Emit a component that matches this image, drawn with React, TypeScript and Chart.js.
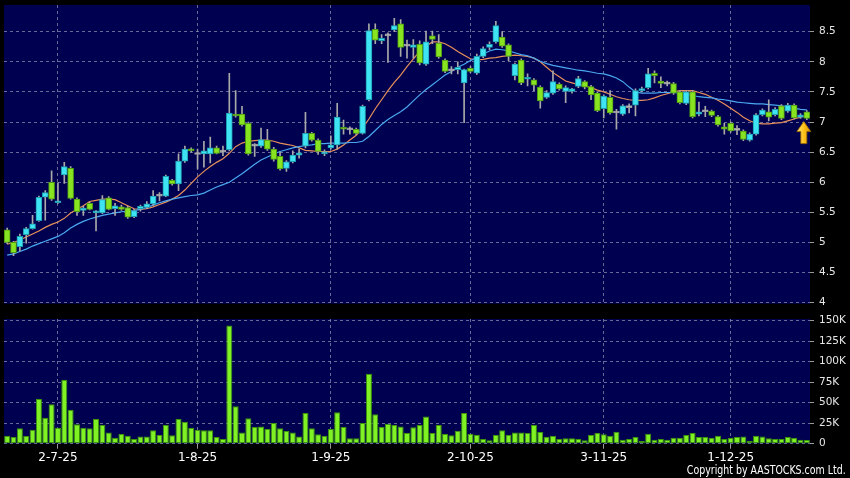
import React, { useEffect, useRef } from "react";
import { Chart, registerables } from "chart.js";

Chart.register(...registerables);

// ---- data ----
const xTickBars = [8, 30, 51, 73, 94, 114];
const xTickLabels = ["2-7-25", "1-8-25", "1-9-25", "2-10-25", "3-11-25", "1-12-25"];

const opens = [5.21,5.00,4.93,5.13,5.23,5.36,5.75,6.00,5.66,6.12, 6.23,5.72,5.53,5.65,5.49,5.49,5.74,5.56,5.59,5.58, 5.43,5.56,5.58,5.64,5.77,5.77,6.03,5.97,6.35,6.55, 6.46,6.47,6.47,6.57,6.50,6.54,7.13,7.13,6.98,6.60, 6.60,6.70,6.55,6.43,6.23,6.34,6.45,6.60,6.81,6.70, 6.47,6.57,6.62,6.91,6.87,6.88,6.81,7.37,8.54,8.35, 8.43,8.53,8.63,8.26,8.24,8.29,7.96,8.43,8.31,8.03, 7.85,7.87,7.65,7.89,7.81,8.09,8.24,8.33,8.41,8.28, 7.77,8.03,7.71,7.70,7.58,7.41,7.48,7.63,7.51,7.51, 7.59,7.67,7.59,7.48,7.22,7.41,7.15,7.13,7.24,7.28, 7.52,7.57,7.81,7.68,7.63,7.64,7.50,7.31,7.50,7.13, 7.17,7.18,7.09,6.92,6.98,6.86,6.85,6.70,6.80,7.12, 7.17,7.12,7.27,7.18,7.28,7.08,7.17];
const highs = [5.24,5.02,5.14,5.25,5.45,5.77,5.86,6.19,5.99,6.33, 6.26,5.74,5.60,5.67,5.53,5.78,5.76,5.65,5.62,5.60, 5.55,5.62,5.68,5.86,5.83,6.12,6.05,6.47,6.60,6.57, 6.55,6.68,6.75,6.60,6.60,7.81,7.52,7.26,7.00,6.64, 6.90,6.88,6.58,6.50,6.36,6.52,6.55,7.16,6.83,6.72, 6.54,6.77,7.31,7.03,6.92,6.90,7.28,8.63,8.63,8.45, 8.48,8.72,8.70,8.36,8.37,8.35,8.51,8.51,8.45,8.05, 7.92,8.00,7.88,7.92,8.13,8.25,8.33,8.67,8.50,8.30, 7.98,8.05,7.80,7.72,7.60,7.52,7.85,7.65,7.60,7.56, 7.76,7.69,7.61,7.50,7.45,7.52,7.21,7.29,7.30,7.55, 7.58,7.89,7.85,7.75,7.68,7.66,7.52,7.52,7.52,7.33, 7.26,7.20,7.11,6.98,7.00,6.94,6.87,6.82,7.14,7.22, 7.37,7.24,7.29,7.31,7.30,7.14,7.19];
const lows = [4.98,4.78,4.86,4.99,5.22,5.35,5.37,5.70,5.65,5.98, 5.72,5.45,5.45,5.54,5.19,5.48,5.54,5.45,5.53,5.40, 5.41,5.52,5.56,5.62,5.69,5.76,5.95,5.86,6.33,6.50, 6.22,6.25,6.32,6.47,6.44,6.52,7.08,6.93,6.45,6.43, 6.58,6.53,6.35,6.20,6.18,6.32,6.40,6.57,6.68,6.46, 6.44,6.55,6.55,6.80,6.80,6.79,6.80,7.35,8.30,8.30, 7.99,8.50,8.09,8.06,8.06,7.95,7.94,8.30,8.06,7.82, 7.80,7.80,6.99,7.82,7.79,8.07,8.20,8.31,8.24,8.02, 7.70,7.62,7.60,7.52,7.23,7.39,7.46,7.53,7.32,7.48, 7.57,7.55,7.37,7.17,7.07,7.13,6.88,7.11,7.15,7.10, 7.50,7.55,7.65,7.57,7.60,7.46,7.30,7.29,7.07,7.10, 7.09,7.09,6.93,6.80,6.83,6.79,6.69,6.68,6.78,7.10, 7.02,7.10,7.04,7.16,7.05,7.06,7.04];
const closes = [5.00,4.83,5.10,5.23,5.31,5.75,5.83,5.72,5.69,6.26, 5.73,5.51,5.57,5.55,5.52,5.71,5.55,5.61,5.55,5.42, 5.53,5.60,5.64,5.77,5.77,6.10,5.97,6.35,6.55,6.52, 6.46,6.52,6.57,6.48,6.50,7.15,7.10,6.95,6.47,6.60, 6.71,6.55,6.38,6.22,6.34,6.45,6.49,6.81,6.70,6.51, 6.50,6.62,7.08,6.88,6.87,6.81,7.26,8.52,8.36,8.39, 8.43,8.60,8.24,8.26,8.28,7.98,8.33,8.37,8.08,7.84, 7.85,7.91,7.87,7.84,8.09,8.22,8.29,8.60,8.26,8.09, 7.96,7.65,7.74,7.61,7.35,7.49,7.67,7.55,7.57,7.55, 7.72,7.58,7.45,7.19,7.43,7.15,7.15,7.27,7.24,7.52, 7.55,7.80,7.77,7.64,7.63,7.48,7.32,7.50,7.09,7.17, 7.17,7.11,6.95,6.88,6.85,6.86,6.71,6.80,7.12,7.20, 7.08,7.21,7.06,7.28,7.07,7.12,7.06];
const volumes = [9800,8100,18700,9300,17000,54500,31700,48000,19500,78000, 41500,23600,19500,18700,30000,22800,13800,7300,11800,9800, 5700,8900,8900,16300,10600,22800,10200,30000,26800,19500, 17000,16300,16300,8100,5700,144000,45500,13800,30900,20300, 21000,17900,25200,18700,15400,13800,8900,37400,18700,11400, 9800,17900,38200,20300,6500,6500,25200,85400,35800,20300, 24400,22800,21000,13000,19900,22800,33300,13000,22800,11800, 10200,15900,37400,12200,11000,5700,4100,10600,16300,11000, 13800,13800,13000,22800,14200,8500,9800,5700,6500,6500, 5700,4100,10600,13000,11400,9800,14600,4900,5700,8100, 3300,12200,4900,5700,4900,7300,7300,10600,13000,8100, 8100,7300,9800,5700,7300,8100,8900,3300,9800,8900, 6500,5700,5700,8100,7300,4900,4500];
const maShort = [4.97,5.00,5.04,5.09,5.14,5.19,5.25,5.30,5.34,5.40, 5.49,5.55,5.61,5.68,5.70,5.72,5.72,5.71,5.66,5.61, 5.56,5.55,5.56,5.59,5.63,5.67,5.72,5.78,5.87,5.98, 6.09,6.18,6.26,6.33,6.39,6.48,6.59,6.65,6.68,6.69, 6.70,6.70,6.68,6.65,6.63,6.61,6.57,6.53,6.52,6.51, 6.51,6.51,6.55,6.62,6.70,6.78,6.90,7.05,7.22,7.37, 7.52,7.66,7.78,7.92,8.05,8.17,8.26,8.33,8.33,8.30, 8.24,8.17,8.11,8.05,8.03,8.04,8.06,8.07,8.09,8.10, 8.11,8.10,8.09,8.06,8.00,7.91,7.82,7.75,7.68,7.65, 7.62,7.60,7.57,7.53,7.50,7.46,7.42,7.39,7.37,7.36, 7.36,7.37,7.40,7.44,7.47,7.50,7.52,7.52,7.52,7.49, 7.46,7.41,7.36,7.30,7.23,7.16,7.08,7.02,6.98,6.97, 6.97,6.98,6.99,7.02,7.05,7.08,7.10];
const maLong = [4.79,4.81,4.85,4.89,4.94,4.98,5.02,5.06,5.10,5.16, 5.24,5.30,5.35,5.39,5.42,5.45,5.47,5.49,5.51,5.52, 5.53,5.55,5.58,5.62,5.66,5.69,5.72,5.74,5.76,5.78, 5.79,5.82,5.87,5.92,5.96,6.00,6.07,6.14,6.22,6.30, 6.37,6.42,6.47,6.51,6.54,6.57,6.59,6.61,6.62,6.64, 6.64,6.65,6.65,6.65,6.66,6.66,6.68,6.76,6.86,6.96, 7.04,7.11,7.17,7.25,7.35,7.45,7.54,7.62,7.70,7.78, 7.84,7.91,7.96,8.02,8.07,8.13,8.18,8.21,8.20,8.18, 8.15,8.12,8.10,8.06,8.01,7.97,7.94,7.92,7.90,7.88, 7.86,7.85,7.83,7.81,7.80,7.77,7.73,7.67,7.58,7.50, 7.48,7.48,7.48,7.49,7.49,7.49,7.48,7.46,7.44,7.42, 7.41,7.40,7.38,7.37,7.35,7.33,7.32,7.31,7.30,7.30, 7.29,7.28,7.27,7.25,7.23,7.21,7.20];
const priceTicks = [4, 4.5, 5, 5.5, 6, 6.5, 7, 7.5, 8, 8.5];
const volumeTicks = [0, 25000, 50000, 75000, 100000, 125000, 150000];

// ---- styles ----
const UP = "#3fe4f4";
const UP_EDGE = "#1c9cae";
const DOWN = "#88e421";
const DOWN_EDGE = "#4c9a12";
const FLAT = "#c8c8c8";
const FLAT_EDGE = "#9a9a9a";
const WICK = "#a9a9a9";
const NAVY = "#000050";
const GRID = "rgba(140,140,175,0.75)";
const TICKC = "#9a9a9a";
const ORANGE = "#e8905a";
const BLUE = "#4aa8f0";
const FONT = "DejaVu Sans";

const labels = opens.map((_, i) => {
  const k = xTickBars.indexOf(i);
  return k >= 0 ? xTickLabels[k] : "";
});
const candleFill = opens.map((o, i) => (closes[i] > o ? UP : closes[i] < o ? DOWN : FLAT));
const candleEdge = opens.map((o, i) => (closes[i] > o ? UP_EDGE : closes[i] < o ? DOWN_EDGE : FLAT_EDGE));

const panelBg = {
  id: "panelBg",
  beforeDraw(chart: any) {
    const { ctx, chartArea: a } = chart;
    ctx.save();
    ctx.fillStyle = NAVY;
    ctx.fillRect(a.left, a.top, a.right - a.left, a.bottom - a.top);
    ctx.restore();
  },
};

const arrowPlugin = {
  id: "lastArrow",
  afterDatasetsDraw(chart: any) {
    const { ctx } = chart;
    const xs = chart.scales.x;
    const ys = chart.scales.y;
    const i = opens.length - 1;
    const cx = xs.getPixelForValue(i) - 3;
    const tip = ys.getPixelForValue(lows[i]) + 2;
    const g = ctx.createLinearGradient(cx - 7, 0, cx + 7, 0);
    g.addColorStop(0, "#ffe27a");
    g.addColorStop(0.5, "#ffc21a");
    g.addColorStop(1, "#d89200");
    ctx.save();
    ctx.beginPath();
    ctx.moveTo(cx, tip);
    ctx.lineTo(cx + 7, tip + 10);
    ctx.lineTo(cx + 3, tip + 10);
    ctx.lineTo(cx + 3, tip + 22);
    ctx.lineTo(cx - 3, tip + 22);
    ctx.lineTo(cx - 3, tip + 10);
    ctx.lineTo(cx - 7, tip + 10);
    ctx.closePath();
    ctx.fillStyle = g;
    ctx.fill();
    ctx.strokeStyle = "#9a6a00";
    ctx.lineWidth = 0.8;
    ctx.stroke();
    ctx.restore();
  },
};

export default function App() {
  const priceRef = useRef<HTMLCanvasElement>(null);
  const volRef = useRef<HTMLCanvasElement>(null);

  useEffect(() => {
    document.body.style.margin = "0";
    document.body.style.background = "#000";
    Chart.defaults.font.family = FONT;

    const price = new Chart(priceRef.current as HTMLCanvasElement, {
      type: "bar",
      data: {
        labels,
        datasets: [
          { type: "line", data: maShort, borderColor: ORANGE, borderWidth: 1.2, pointRadius: 0, order: 4 } as any,
          { type: "line", data: maLong, borderColor: BLUE, borderWidth: 1.2, pointRadius: 0, order: 3 } as any,
          {
            type: "bar",
            data: lows.map((l, i) => [l, highs[i]]),
            backgroundColor: WICK,
            barThickness: 1,
            grouped: false,
            order: 2,
          } as any,
          {
            type: "bar",
            data: opens.map((o, i) => [o, closes[i]]),
            backgroundColor: candleFill,
            borderColor: candleEdge,
            borderWidth: 1,
            borderSkipped: false,
            barThickness: 6,
            minBarLength: 2,
            grouped: false,
            order: 1,
          } as any,
        ],
      },
      options: {
        animation: false,
        responsive: false,
        maintainAspectRatio: false,
        events: [],
        layout: { padding: { left: 4, top: 5, right: 0, bottom: 6.3 } },
        plugins: { legend: { display: false }, tooltip: { enabled: false } },
        scales: {
          x: {
            offset: true,
            grid: { offset: false, color: GRID, lineWidth: 1, drawTicks: false },
            border: { display: false, dash: [3, 3] },
            ticks: { display: false },
            afterBuildTicks: (s: any) => {
              s.ticks = xTickBars.map((v) => ({ value: v }));
            },
            afterFit: (s: any) => {
              s.height = 0;
              s.paddingLeft = 0;
              s.paddingRight = 0;
            },
          },
          y: {
            position: "right",
            min: 3.983,
            max: 8.943,
            grid: { color: GRID, lineWidth: 1, tickLength: 4, tickColor: TICKC, tickBorderDash: [] },
            border: { display: false, dash: [3, 3] },
            ticks: { color: "#e6e6e6", font: { size: 10.5 }, padding: 5, callback: (v: any) => String(v) },
            afterBuildTicks: (s: any) => {
              s.ticks = priceTicks.map((v) => ({ value: v }));
            },
            afterFit: (s: any) => {
              s.width = 40;
              s.paddingTop = 0;
              s.paddingBottom = 0;
            },
          },
        },
      } as any,
      plugins: [panelBg, arrowPlugin],
    });

    const vol = new Chart(volRef.current as HTMLCanvasElement, {
      type: "bar",
      data: {
        labels,
        datasets: [
          {
            data: volumes,
            backgroundColor: "#80f224",
            borderColor: "#3a9608",
            borderWidth: 1,
            borderSkipped: false,
            barPercentage: 0.95,
            categoryPercentage: 1,
          } as any,
        ],
      },
      options: {
        animation: false,
        responsive: false,
        maintainAspectRatio: false,
        events: [],
        layout: { padding: { left: 4, top: 9, right: 0, bottom: 12.3 } },
        plugins: { legend: { display: false }, tooltip: { enabled: false } },
        scales: {
          x: {
            offset: true,
            grid: { offset: false, color: GRID, lineWidth: 1, drawTicks: true, tickLength: 5, tickColor: TICKC, tickBorderDash: [] },
            border: { display: false, dash: [3, 3] },
            ticks: {
              color: "#ffffff",
              font: { size: 12 },
              padding: 2,
              autoSkip: false,
              maxRotation: 0,
              callback: (v: any) => labels[v],
            },
            afterBuildTicks: (s: any) => {
              s.ticks = xTickBars.map((v) => ({ value: v }));
            },
            afterFit: (s: any) => {
              s.height = 22;
              s.paddingLeft = 0;
              s.paddingRight = 0;
            },
          },
          y: {
            position: "right",
            min: 0,
            max: 152000,
            grid: { color: GRID, lineWidth: 1, tickLength: 4, tickColor: TICKC, tickBorderDash: [] },
            border: { display: false, dash: [3, 3] },
            ticks: {
              color: "#e6e6e6",
              font: { size: 10.5 },
              padding: 5,
              callback: (v: any) => (v === 0 ? "0" : v / 1000 + "K"),
            },
            afterBuildTicks: (s: any) => {
              s.ticks = volumeTicks.map((v) => ({ value: v }));
            },
            afterFit: (s: any) => {
              s.width = 40;
              s.paddingTop = 0;
              s.paddingBottom = 0;
            },
          },
        },
      } as any,
      plugins: [panelBg],
    });

    return () => {
      price.destroy();
      vol.destroy();
    };
  }, []);

  return (
    <div style={{ position: "relative", width: 850, height: 478, background: "#000", overflow: "hidden" }}>
      <canvas ref={priceRef} width={850} height={310} style={{ position: "absolute", left: 0, top: 0 }} />
      <canvas ref={volRef} width={850} height={168} style={{ position: "absolute", left: 0, top: 310 }} />
      <div
        style={{
          position: "absolute",
          right: 4,
          top: 463,
          color: "#fff",
          fontFamily: "'DejaVu Sans', sans-serif",
          fontSize: 11.5,
          lineHeight: "14px",
          whiteSpace: "nowrap",
          transform: "scaleX(0.82)",
          transformOrigin: "right center",
        }}
      >
        Copyright by AASTOCKS.com Ltd.
      </div>
    </div>
  );
}
